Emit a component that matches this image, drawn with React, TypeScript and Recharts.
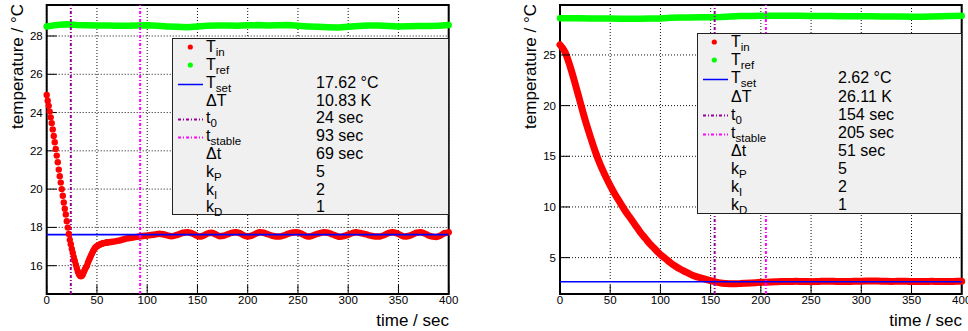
import React from "react"
import {
  ComposedChart,
  Line,
  Scatter,
  XAxis,
  YAxis,
  CartesianGrid,
  ReferenceLine,
  ReferenceArea,
} from "recharts"

const FONT = '"Liberation Sans", Arial, Helvetica, sans-serif'
const H = 331

// ---- left run (T_set 17.62) ----
// T_in, one reading per second for the first minute
const tinLeftEarly = [
  24.92, 24.62, 24.35, 24.05, 23.75, 23.45, 23.12, 22.78, 22.45, 22.1,
  21.75, 21.4, 21.02, 20.67, 20.34, 20.0, 19.65, 19.3, 18.98, 18.67,
  18.32, 17.99, 17.66, 17.35, 17.12, 16.88, 16.66, 16.45, 16.25, 16.05,
  15.87, 15.7, 15.57, 15.49, 15.45, 15.47, 15.55, 15.68, 15.8, 15.9,
  16.0, 16.15, 16.28, 16.4, 16.52, 16.63, 16.74, 16.84, 16.92, 16.98,
  17.02, 17.05, 17.08, 17.11, 17.13, 17.15, 17.17, 17.18, 17.19, 17.2,
  17.21,
]
// T_in from 60 s on, every 4 s
const tinLeftLate = [
  17.21, 17.24, 17.27, 17.31, 17.37, 17.43, 17.46, 17.49, 17.52, 17.55,
  17.58, 17.6, 17.63, 17.67, 17.64, 17.58, 17.54, 17.58, 17.65, 17.72,
  17.74, 17.7, 17.6, 17.52, 17.57, 17.68, 17.72, 17.64, 17.54, 17.56,
  17.64, 17.71, 17.74, 17.7, 17.59, 17.52, 17.57, 17.67, 17.74, 17.72,
  17.64, 17.57, 17.52, 17.52, 17.58, 17.66, 17.72, 17.74, 17.7, 17.6,
  17.52, 17.56, 17.64, 17.7, 17.74, 17.72, 17.64, 17.56, 17.51, 17.55,
  17.62, 17.7, 17.74, 17.71, 17.66, 17.6, 17.55, 17.52, 17.53, 17.6,
  17.7, 17.75, 17.7, 17.6, 17.52, 17.55, 17.63, 17.72, 17.74, 17.68,
  17.58, 17.52, 17.5, 17.58, 17.7, 17.74,
]
// T_ref every 10 s
const trefLeft = [
  28.5, 28.58, 28.62, 28.58, 28.56, 28.55, 28.55, 28.54, 28.53, 28.55,
  28.56, 28.53, 28.5, 28.48, 28.46, 28.5, 28.53, 28.55, 28.55, 28.54,
  28.56, 28.57, 28.55, 28.56, 28.57, 28.53, 28.5, 28.48, 28.46, 28.45,
  28.48, 28.52, 28.55, 28.55, 28.52, 28.5, 28.51, 28.52, 28.52, 28.54,
  28.57,
]

// ---- right run (T_set 2.62) ----
// T_in every 5 s
const tinRight = [
  26.0, 25.3, 23.9, 22.2, 20.4, 18.6, 17.0, 15.5, 14.2, 13.1,
  12.1, 11.2, 10.4, 9.6, 8.9, 8.2, 7.5, 6.9, 6.3, 5.8,
  5.3, 4.9, 4.5, 4.15, 3.85, 3.6, 3.35, 3.15, 3.0, 2.85,
  2.72, 2.6, 2.5, 2.45, 2.42, 2.42, 2.44, 2.47, 2.5, 2.53,
  2.56, 2.58, 2.6, 2.62, 2.64, 2.64, 2.65, 2.66, 2.65, 2.64,
  2.63, 2.64, 2.66, 2.68, 2.67, 2.65, 2.64, 2.64, 2.65, 2.67,
  2.68, 2.69, 2.7, 2.69, 2.68, 2.66, 2.65, 2.66, 2.67, 2.66,
  2.65, 2.64, 2.64, 2.65, 2.66, 2.65, 2.64, 2.64, 2.65, 2.66,
  2.66,
]
// T_ref every 10 s
const trefRight = [
  28.62, 28.63, 28.62, 28.61, 28.6, 28.6, 28.58, 28.57, 28.58, 28.59,
  28.6, 28.66, 28.7, 28.7, 28.71, 28.72, 28.74, 28.8, 28.84, 28.85,
  28.86, 28.86, 28.87, 28.88, 28.86, 28.85, 28.85, 28.84, 28.83, 28.82,
  28.82, 28.81, 28.8, 28.8, 28.79, 28.78, 28.77, 28.79, 28.82, 28.84,
  28.86,
]

// fit results shown in the legends
const leftMarks = { tSet: 17.62, t0: 24, tStable: 93 }
const rightMarks = { tSet: 2.62, t0: 154, tStable: 205 }
const leftValues = ["17.62 °C", "10.83 K", "24 sec", "93 sec", "69 sec", "5", "2", "1"]
const rightValues = ["2.62 °C", "26.11 K", "154 sec", "205 sec", "51 sec", "5", "2", "1"]

// axes
const xTicks = [0, 50, 100, 150, 200, 250, 300, 350, 400]
const leftYTicks = [16, 18, 20, 22, 24, 26, 28]
const rightYTicks = [5, 10, 15, 20, 25]
const leftYDomain: [number, number] = [14.52, 29.62]
const rightYDomain: [number, number] = [1.41, 29.93]

const RED = "#ff0000"
const GREEN = "#00ff00"
const BLUE = "#0000ff"
const PURPLE = "#990099"
const MAGENTA = "#ff00ff"
const DASH = "3 2 1 2"

const range = (a: number, b: number, s: number) => {
  const out: number[] = []
  for (let v = a; v <= b + 1e-9; v += s) out.push(Math.round(v * 100) / 100)
  return out
}

const toPoints = (vals: number[], start: number, step: number) =>
  vals.map((v, i) => ({ t: start + i * step, v }))

interface PanelProps {
  left: number
  width: number
  axisWidth: number
  marginRight: number
  yDomain: [number, number]
  yTicks: number[]
  yMinor: number[]
  dots?: { t: number; v: number }[]
  tin: { t: number; v: number }[]
  tinWidth: number
  tref: { t: number; v: number }[]
  marks: { tSet: number; t0: number; tStable: number }
}

const tickFont = { fontSize: 11.5, fill: "#000", fontFamily: FONT }

function Panel(p: PanelProps) {
  return (
    <div style={{ position: "absolute", left: p.left, top: 0, width: p.width, height: H }}>
      <ComposedChart
        width={p.width}
        height={H}
        margin={{ top: 5, right: p.marginRight, bottom: 0, left: 0 }}
      >
        <XAxis
          xAxisId="x"
          dataKey="t"
          type="number"
          domain={[0, 400]}
          ticks={xTicks}
          interval={0}
          height={37}
          axisLine={false}
          tickSize={-9}
          tickMargin={11}
          tickLine={{ stroke: "#000", strokeWidth: 1 }}
          tick={tickFont}
        />
        <XAxis
          xAxisId="xm"
          type="number"
          domain={[0, 400]}
          allowDataOverflow
          ticks={range(0, 400, 10)}
          interval={0}
          mirror
          height={1}
          axisLine={false}
          tick={false}
          tickSize={4.5}
          tickLine={{ stroke: "#000", strokeWidth: 1 }}
        />
        <YAxis
          yAxisId="y"
          type="number"
          domain={p.yDomain}
          ticks={p.yTicks}
          interval={0}
          width={p.axisWidth}
          axisLine={false}
          tickSize={-10}
          tickMargin={14}
          tickLine={{ stroke: "#000", strokeWidth: 1 }}
          tick={tickFont}
        />
        <YAxis
          yAxisId="ym"
          type="number"
          domain={p.yDomain}
          allowDataOverflow
          ticks={p.yMinor}
          interval={0}
          mirror
          width={1}
          axisLine={false}
          tick={false}
          tickSize={5}
          tickLine={{ stroke: "#000", strokeWidth: 1 }}
        />
        <CartesianGrid
          xAxisId="x"
          yAxisId="y"
          stroke="#111"
          strokeDasharray="1 2"
          fill="none"
        />
        <Line
          xAxisId="x"
          yAxisId="y"
          data={p.tref}
          dataKey="v"
          type="linear"
          stroke={GREEN}
          strokeWidth={6.5}
          strokeLinecap="round"
          dot={false}
          isAnimationActive={false}
        />
        {p.dots && (
          <Scatter
            xAxisId="x"
            yAxisId="y"
            data={p.dots}
            dataKey="v"
            fill={RED}
            isAnimationActive={false}
            shape={(s: any) => <circle cx={s.cx} cy={s.cy} r={3.2} fill={RED} />}
          />
        )}
        <Line
          xAxisId="x"
          yAxisId="y"
          data={p.tin}
          dataKey="v"
          type="monotone"
          stroke={RED}
          strokeWidth={p.tinWidth}
          strokeLinecap="round"
          dot={false}
          isAnimationActive={false}
        />
        <ReferenceLine xAxisId="x" yAxisId="y" y={p.marks.tSet} stroke={BLUE} strokeWidth={1.6} />
        <ReferenceLine
          xAxisId="x"
          yAxisId="y"
          x={p.marks.t0}
          stroke={PURPLE}
          strokeWidth={2}
          strokeDasharray={DASH}
        />
        <ReferenceLine
          xAxisId="x"
          yAxisId="y"
          x={p.marks.tStable}
          stroke={MAGENTA}
          strokeWidth={2}
          strokeDasharray={DASH}
        />
        <ReferenceArea
          xAxisId="x"
          yAxisId="y"
          x1={0}
          x2={400}
          y1={p.yDomain[0]}
          y2={p.yDomain[1]}
          fill="none"
          stroke="#000"
          strokeWidth={2}
        />
      </ComposedChart>
    </div>
  )
}

const legendRows = [
  { main: "T", sub: "in", mark: "red" },
  { main: "T", sub: "ref", mark: "green" },
  { main: "T", sub: "set", mark: "blue" },
  { main: "ΔT", sub: "", mark: "" },
  { main: "t", sub: "0", mark: "purple" },
  { main: "t", sub: "stable", mark: "magenta" },
  { main: "Δt", sub: "", mark: "" },
  { main: "k", sub: "P", mark: "" },
  { main: "k", sub: "I", mark: "" },
  { main: "k", sub: "D", mark: "" },
]

function Mark({ kind, dotX }: { kind: string; dotX: number }) {
  if (!kind) return null
  return (
    <svg width={34} height={18} style={{ position: "absolute", left: 0, top: -1.2 }}>
      {kind === "red" && <circle cx={dotX} cy={9} r={2.6} fill={RED} />}
      {kind === "green" && <circle cx={dotX} cy={9} r={2.6} fill={GREEN} />}
      {kind === "blue" && <line x1={5} x2={30} y1={10.5} y2={10.5} stroke={BLUE} strokeWidth={1.5} />}
      {kind === "purple" && (
        <line x1={5} x2={30} y1={10.5} y2={10.5} stroke={PURPLE} strokeWidth={2} strokeDasharray={DASH} />
      )}
      {kind === "magenta" && (
        <line x1={5} x2={30} y1={10.5} y2={10.5} stroke={MAGENTA} strokeWidth={2} strokeDasharray={DASH} />
      )}
    </svg>
  )
}

function LegendBox(props: {
  left: number
  top: number
  width: number
  height: number
  rowH: number
  dotX: number
  valueX: number
  values: string[]
}) {
  return (
    <div
      style={{
        position: "absolute",
        left: props.left,
        top: props.top,
        width: props.width,
        height: props.height,
        boxSizing: "border-box",
        background: "#f0f0f0",
        border: "1px solid #222",
        fontFamily: FONT,
        color: "#000",
      }}
    >
      {legendRows.map((r, i) => (
        <div
          key={i}
          style={{
            position: "absolute",
            left: 0,
            top: i * props.rowH + 0.2,
            height: 16,
            width: "100%",
            lineHeight: "16px",
            fontSize: 16,
            whiteSpace: "nowrap",
          }}
        >
          <Mark kind={r.mark} dotX={props.dotX} />
          <span style={{ position: "absolute", left: 33 }}>
            {r.main}
            {r.sub && (
              <span style={{ fontSize: 11.5, lineHeight: "11px", position: "relative", top: 4 }}>
                {r.sub}
              </span>
            )}
          </span>
          {i >= 2 && (
            <span style={{ position: "absolute", left: props.valueX }}>{props.values[i - 2]}</span>
          )}
        </div>
      ))}
    </div>
  )
}

export default function App() {
  return (
    <div
      style={{
        position: "fixed",
        left: 0,
        top: 0,
        width: 968,
        height: H,
        background: "#fff",
        overflow: "hidden",
      }}
    >
      <Panel
        left={0}
        width={470}
        axisWidth={46.7}
        marginRight={21.3}
        yDomain={leftYDomain}
        yTicks={leftYTicks}
        yMinor={range(15, 29.5, 0.5)}
        dots={toPoints(tinLeftEarly, 0, 1)}
        tin={toPoints(tinLeftLate, 60, 4)}
        tinWidth={6.5}
        tref={toPoints(trefLeft, 0, 10)}
        marks={leftMarks}
      />
      <Panel
        left={500}
        width={468}
        axisWidth={60}
        marginRight={6.3}
        yDomain={rightYDomain}
        yTicks={rightYTicks}
        yMinor={range(2, 29, 1)}
        tin={toPoints(tinRight, 0, 5)}
        tinWidth={7}
        tref={toPoints(trefRight, 0, 10)}
        marks={rightMarks}
      />
      <svg
        width={968}
        height={H}
        style={{ position: "absolute", left: 0, top: 0, pointerEvents: "none" }}
        fontFamily={FONT}
        fontSize={17}
      >
        <text x={23} y={4} transform="rotate(-90 23 4)" textAnchor="end">
          temperature / °C
        </text>
        <text x={536} y={4} transform="rotate(-90 536 4)" textAnchor="end">
          temperature / °C
        </text>
        <text x={449} y={326} textAnchor="end">
          time / sec
        </text>
        <text x={962} y={326} textAnchor="end">
          time / sec
        </text>
      </svg>
      <LegendBox left={172} top={38} width={277} height={177} rowH={17.8} dotX={17.3} valueX={143} values={leftValues} />
      <LegendBox left={697} top={33} width={265} height={181} rowH={18.1} dotX={16.3} valueX={140} values={rightValues} />
    </div>
  )
}
